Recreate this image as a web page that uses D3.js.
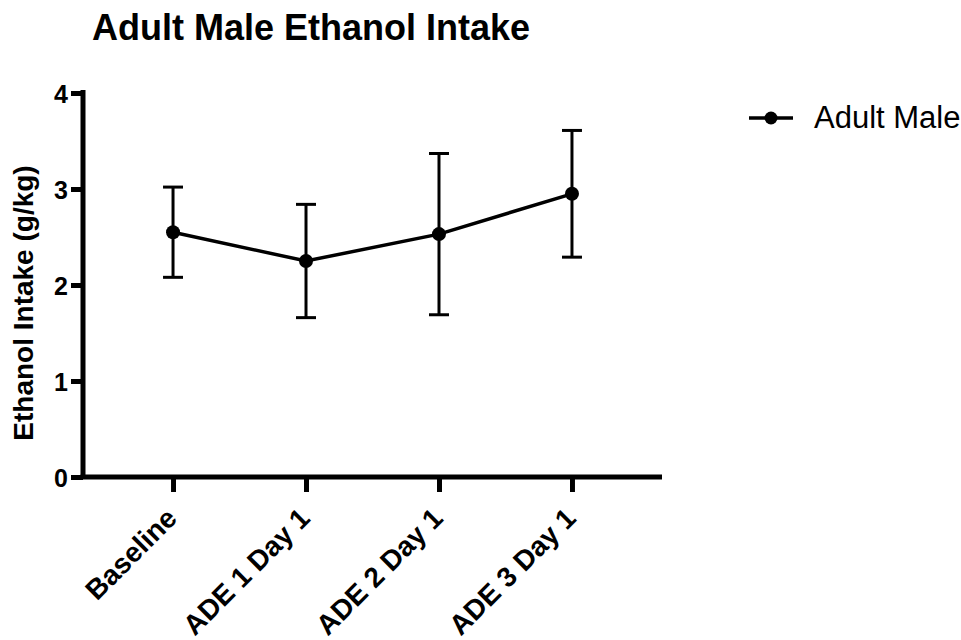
<!DOCTYPE html>
<html>
<head>
<meta charset="utf-8">
<script src="https://cdn.jsdelivr.net/npm/d3@7"></script>
<style>
  body { margin: 0; background: #fff; }
  svg { font-family: "Liberation Sans", Arial, sans-serif; }
</style>
</head>
<body>
<svg id="chart" width="961" height="640"></svg>
<script>
const categories = ["Baseline", "ADE 1 Day 1", "ADE 2 Day 1", "ADE 3 Day 1"];
const means = [2.55, 2.25, 2.53, 2.95];
const errors = [0.47, 0.59, 0.84, 0.66];
const yTicks = [0, 1, 2, 3, 4];
const seriesName = "Adult Male";
const title = "Adult Male Ethanol Intake";
const yLabel = "Ethanol Intake (g/kg)";

(function () {
const svg = d3.select("#chart");
const pLeft = 83, pRight = 662, pTop = 93, pBottom = 477;

const x = d3.scalePoint().domain(categories).range([pLeft, pRight]).padding(0.677);
const y = d3.scaleLinear().domain([0, 4]).range([pBottom, pTop]);

const data = categories.map((c, i) => ({ c, m: means[i], e: errors[i] }));

// Title
svg.append("text").attr("x", 92).attr("y", 40)
  .attr("font-size", 36).attr("font-weight", "bold").text(title);

// Y axis
const yAxis = svg.append("g").attr("transform", `translate(${pLeft},0)`)
  .call(d3.axisLeft(y).tickValues(yTicks).tickFormat(d3.format("d")).tickSize(12).tickSizeOuter(0));
yAxis.select(".domain").attr("stroke-width", 5).attr("d", `M0,${pTop - 3}V${pBottom}`);
yAxis.selectAll(".tick line").attr("stroke-width", 5);
yAxis.selectAll(".tick text").attr("font-size", 25).attr("font-weight", "bold")
  .attr("x", -15).attr("dy", "0.36em").attr("fill", "#000");

// X axis
const xAxis = svg.append("g").attr("transform", `translate(0,${pBottom})`)
  .call(d3.axisBottom(x).tickSize(15).tickSizeOuter(0));
xAxis.select(".domain").attr("stroke-width", 5).attr("d", `M${pLeft - 2.5},0H${pRight}`);
xAxis.selectAll(".tick line").attr("stroke-width", 5);
xAxis.selectAll(".tick text").attr("font-size", 28).attr("font-weight", "bold")
  .attr("fill", "#000")
  .attr("text-anchor", "end")
  .attr("transform", "translate(5,43) rotate(-45)")
  .attr("x", 0).attr("y", 0).attr("dy", 0);

// Y label
svg.append("text")
  .attr("transform", `translate(33,303) rotate(-90)`)
  .attr("text-anchor", "middle").attr("font-size", 28).attr("font-weight", "bold")
  .text(yLabel);

// Error bars
const eb = svg.append("g").attr("stroke", "#000").attr("stroke-width", 3);
data.forEach(d => {
  const cx = x(d.c);
  eb.append("line").attr("x1", cx).attr("x2", cx).attr("y1", y(d.m + d.e)).attr("y2", y(d.m - d.e));
  [d.m + d.e, d.m - d.e].forEach(v => {
    eb.append("line").attr("x1", cx - 10).attr("x2", cx + 10).attr("y1", y(v)).attr("y2", y(v));
  });
});

// Line
svg.append("path").datum(data)
  .attr("fill", "none").attr("stroke", "#000").attr("stroke-width", 3.5)
  .attr("d", d3.line().x(d => x(d.c)).y(d => y(d.m)));

// Points
svg.append("g").selectAll("circle").data(data).join("circle")
  .attr("cx", d => x(d.c)).attr("cy", d => y(d.m)).attr("r", 7).attr("fill", "#000");

// Legend
const lg = svg.append("g");
lg.append("line").attr("x1", 749).attr("x2", 793).attr("y1", 118).attr("y2", 118)
  .attr("stroke", "#000").attr("stroke-width", 3.5);
lg.append("circle").attr("cx", 771).attr("cy", 118).attr("r", 6.5).attr("fill", "#000");
lg.append("text").attr("x", 814).attr("y", 128).attr("font-size", 31).text(seriesName);
})();
</script>
</body>
</html>
